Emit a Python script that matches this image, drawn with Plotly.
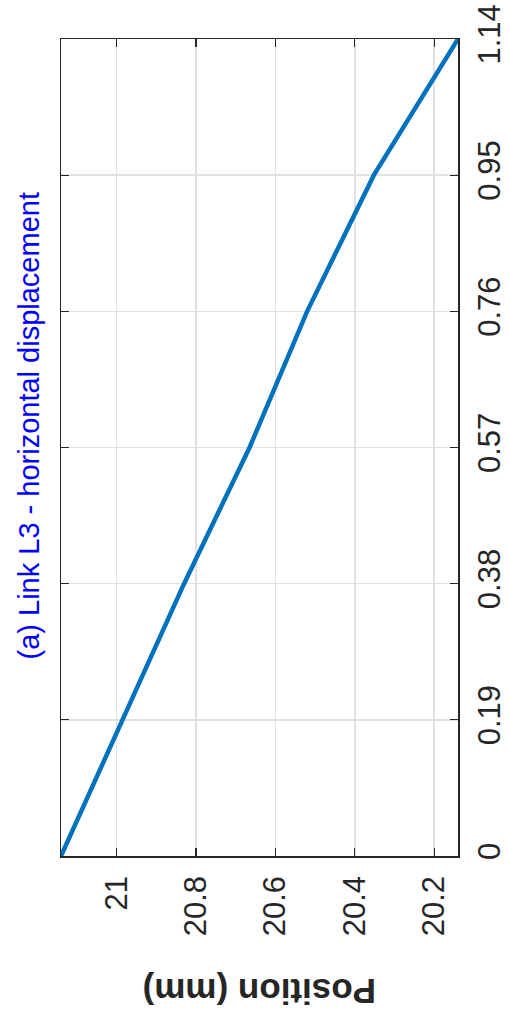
import plotly.graph_objects as go

# Data (time in s, position in mm)
time_s = [0, 0.19, 0.38, 0.57, 0.76, 0.95, 1.14]
position_mm = [21.14, 20.985, 20.83, 20.665, 20.52, 20.352, 20.14]

pos_tick_vals = [21.0, 20.8, 20.6, 20.4, 20.2]
pos_tick_text = ["21", "20.8", "20.6", "20.4", "20.2"]
time_tick_vals = [0, 0.19, 0.38, 0.57, 0.76, 0.95, 1.14]
time_tick_text = ["0", "0.19", "0.38", "0.57", "0.76", "0.95", "1.14"]

title_text = "(a) Link L3 - horizontal displacement"
axis_title_text = "Position (mm)"

W, H = 510, 1025
L, R, T, B = 61, 458, 39, 856
pw, ph = R - L, B - T

def px_to_paper_x(px):
    return (px - L) / pw

def px_to_paper_y(py):
    return (B - py) / ph

font_family = "Liberation Sans, Arial, Helvetica, sans-serif"
axis_color = "#262626"
grid_color = "#e1e1e1"

fig = go.Figure()
fig.add_trace(go.Scatter(
    x=position_mm, y=time_s, mode="lines",
    line=dict(color="#0072BD", width=4.5),
    hoverinfo="skip", showlegend=False, cliponaxis=False,
))

fig.update_layout(
    width=W, height=H,
    margin=dict(l=L, r=W - R, t=T, b=H - B, pad=0, autoexpand=False),
    paper_bgcolor="white", plot_bgcolor="white",
    font=dict(family=font_family, color=axis_color, size=31),
    xaxis=dict(
        range=[21.14, 20.14], tickmode="array", automargin=False,
        tickvals=pos_tick_vals, ticktext=pos_tick_text,
        tickangle=-90, ticks="inside", ticklen=8, tickwidth=1.3,
        tickcolor=axis_color, showline=True, linecolor=axis_color, linewidth=1.5,
        mirror="ticks", showgrid=True, gridcolor=grid_color, gridwidth=1.5,
        zeroline=False, tickfont=dict(size=31, color=axis_color),
        ticklabelstandoff=6,
    ),
    yaxis=dict(
        range=[0, 1.14], side="right", tickmode="array", automargin=False,
        tickvals=time_tick_vals, ticktext=time_tick_text,
        tickangle=-90, ticks="inside", ticklen=8, tickwidth=1.3,
        tickcolor=axis_color, showline=True, linecolor=axis_color, linewidth=1.5,
        mirror="ticks", showgrid=True, gridcolor=grid_color, gridwidth=1.5,
        zeroline=False, tickfont=dict(size=31, color=axis_color),
        ticklabelstandoff=3,
    ),
)

fig.add_annotation(
    text=axis_title_text, textangle=180, showarrow=False,
    xref="paper", yref="paper",
    x=px_to_paper_x((L + R) / 2), y=px_to_paper_y(992),
    xanchor="center", yanchor="middle",
    font=dict(size=35, family=font_family, color=axis_color, weight="bold"),
)

fig.add_annotation(
    text=title_text, textangle=-90, showarrow=False,
    xref="paper", yref="paper",
    x=px_to_paper_x(28), y=px_to_paper_y(662),
    xanchor="center", yanchor="bottom",
    font=dict(size=29, family=font_family, color="#0000FF"),
)

fig.write_html(
    "out.html",
    config={"displayModeBar": False, "staticPlot": True},
    post_script="document.body.style.margin='0';document.body.style.overflow='hidden';",
)
